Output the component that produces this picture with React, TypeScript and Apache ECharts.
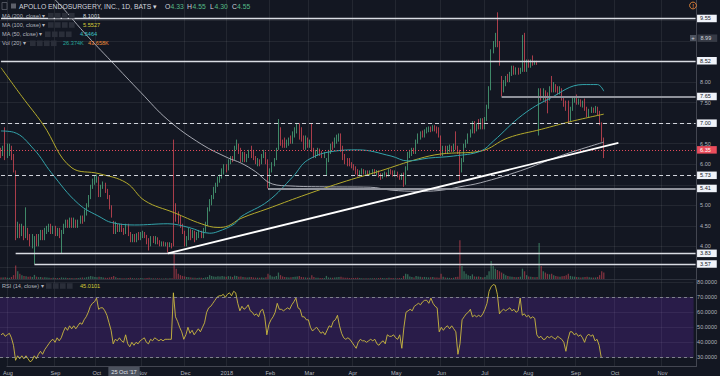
import React, { useEffect, useRef } from 'react';
import * as echarts from 'echarts';

// ---------- time axis ----------
const TRADING_START = '2017-08-01';
const SLOT_COUNT = 334; // trading sessions incl. empty future space up to the price scale
const MARKET_HOLIDAYS = ['2017-09-04', '2017-11-23', '2017-12-25', '2018-01-01', '2018-01-15', '2018-02-19', '2018-03-30', '2018-05-28', '2018-07-04', '2018-09-03', '2018-11-22'];
const MONTH_NAMES = ['Jan', 'Feb', 'Mar', 'Apr', 'May', 'Jun', 'Jul', 'Aug', 'Sep', 'Oct', 'Nov', 'Dec'];

// ---------- candles [open, close, low, high] ----------
const aug17 = [[6.3,6.25,6.15,6.4],[6.25,6.35,6.2,6.45],[6.4,6.2,6.1,6.9],[6.2,6.35,6.15,6.5],[6.3,6.4,6.2,6.5],[6.4,6.2,6.1,6.45],[6.2,5.85,5.8,6.25],[5.8,4.3,4.15,5.85],[4.3,4.5,4.2,4.6],[4.5,4.3,4.2,4.55],[4.3,4.45,4.25,4.55],[4.45,4.25,4.15,4.5],[4.25,4.4,4.2,4.95],[4.4,4.25,4.15,4.45],[4.25,4.1,4.0,4.3],[4.1,4.15,3.95,4.3],[3.95,4.2,3.57,4.25],[4.2,4.05,4.0,4.3],[4.05,4.25,4.0,4.3],[4.2,4.35,4.15,4.4],[4.35,4.2,4.15,4.4],[4.2,4.4,4.15,4.45],[4.35,4.45,4.3,4.5]];
const sep17 = [[4.4,4.5,4.35,4.55],[4.5,4.35,4.3,4.55],[4.35,4.45,4.3,4.5],[4.45,4.3,4.25,4.5],[4.3,4.4,4.25,4.45],[4.4,4.25,4.2,4.45],[4.2,4.35,3.83,4.4],[4.35,4.5,4.3,4.55],[4.5,4.6,4.45,4.65],[4.6,4.5,4.45,4.65],[4.5,4.6,4.45,4.7],[4.65,4.5,4.45,4.7],[4.5,4.62,4.45,4.7],[4.62,4.5,4.45,4.65],[4.5,4.6,4.45,4.65],[4.6,4.7,4.55,4.75],[4.7,4.6,4.55,4.75],[4.65,4.85,4.6,4.9],[4.8,5.0,4.75,5.05],[5.0,5.2,4.95,5.25]];
const oct17 = [[5.2,5.45,5.15,5.5],[5.45,5.6,5.4,5.65],[5.55,5.65,5.5,5.72],[5.62,5.72,5.55,5.75],[5.68,5.25,5.2,5.7],[5.3,5.45,5.2,5.5],[5.45,5.52,5.4,5.58],[5.5,5.35,5.3,5.55],[5.35,5.2,5.15,5.4],[5.2,4.95,4.9,5.25],[4.95,4.75,4.7,5.0],[4.6,4.35,4.3,4.62],[4.35,4.5,4.3,4.6],[4.5,4.4,4.35,4.55],[4.4,4.5,4.35,4.55],[4.5,4.4,4.35,4.55],[4.4,4.33,4.28,4.45],[4.33,4.55,4.30,4.55],[4.5,4.3,4.25,4.55],[4.3,4.15,4.1,4.35],[4.15,4.25,4.1,4.3],[4.25,4.15,4.1,4.3]];
const nov17 = [[4.15,4.3,4.1,4.32],[4.3,4.2,4.15,4.35],[4.2,4.3,4.15,4.35],[4.25,4.32,4.2,4.38],[4.32,4.25,4.2,4.35],[4.25,4.1,4.05,4.28],[4.15,4.05,3.9,4.2],[4.05,4.2,4.0,4.25],[4.2,4.12,4.08,4.25],[4.1,4.2,4.05,4.25],[4.2,4.1,4.05,4.22],[4.1,4.05,4.0,4.15],[4.05,4.1,4.0,4.12],[4.1,4.05,4.0,4.12],[4.05,4.08,4.0,4.1],[4.08,4.02,3.85,4.1],[4.02,4.06,3.98,4.1],[4.06,4.0,3.95,4.08],[5.6,4.95,4.0,6.6],[4.95,4.75,4.6,5.05],[4.75,4.65,4.55,4.85]];
const dec17 = [[4.7,4.5,4.45,4.75],[4.5,4.35,4.3,4.55],[4.35,4.1,4.0,4.38],[4.1,4.2,4.0,4.25],[4.2,4.4,4.15,4.45],[4.4,4.25,4.15,4.42],[4.25,4.35,4.2,4.4],[4.35,4.2,4.1,4.38],[4.2,4.3,4.15,4.35],[4.25,4.35,4.2,4.4],[4.35,4.25,4.2,4.38],[4.25,4.4,4.2,4.45],[4.4,4.55,4.35,4.6],[4.55,4.9,4.5,4.95],[4.9,5.1,4.85,5.15],[5.1,5.2,5.0,5.25],[5.2,5.4,5.15,5.45],[5.35,5.5,5.3,5.55],[5.5,5.65,5.45,5.7],[5.6,5.72,5.55,5.75]];
const jan18 = [[5.7,5.85,5.65,5.9],[5.85,5.95,5.75,6.0],[5.95,5.85,5.8,6.0],[5.9,6.08,5.85,6.12],[6.08,6.15,6.0,6.2],[6.15,6.1,6.05,6.2],[6.15,6.4,6.1,6.45],[6.4,6.45,6.35,6.6],[6.45,6.3,6.25,6.5],[6.35,6.1,6.05,6.4],[6.1,6.25,6.05,6.3],[6.25,6.15,6.05,6.3],[6.1,6.2,6.05,6.25],[6.2,6.3,6.15,6.35],[6.35,6.2,6.15,6.45],[6.3,6.15,6.1,6.35],[6.15,6.05,6.0,6.2],[6.0,6.1,5.95,6.15],[6.1,6.0,5.95,6.12],[6.05,6.2,6.0,6.25],[6.2,6.3,6.15,6.35]];
const feb18 = [[6.25,6.1,6.0,6.3],[6.1,5.55,5.41,6.12],[5.55,5.85,5.45,5.9],[5.85,6.0,5.8,6.05],[6.0,6.1,5.95,6.15],[6.15,6.35,6.1,6.4],[6.4,6.8,6.35,7.1],[6.8,6.5,6.45,6.9],[6.55,6.5,6.4,6.6],[6.6,6.45,6.4,6.65],[6.45,6.55,6.4,6.6],[6.5,6.6,6.45,6.65],[6.62,6.55,6.5,6.7],[6.55,6.75,6.5,6.8],[6.7,6.85,6.65,6.9],[6.8,6.95,6.75,7.0],[6.97,6.65,6.6,7.0],[6.85,6.6,6.55,6.9],[6.65,6.4,6.35,6.7]];
const mar18 = [[6.4,6.6,6.35,6.7],[6.6,6.5,6.4,6.65],[6.45,6.55,6.4,6.6],[6.9,6.35,6.3,7.0],[6.35,6.2,6.15,6.4],[6.2,6.3,6.15,6.35],[6.25,6.35,6.2,6.4],[6.35,6.25,6.2,6.38],[6.3,6.2,6.15,6.32],[6.2,6.25,6.15,6.3],[5.85,6.1,5.72,6.15],[6.1,6.3,6.05,6.35],[6.3,6.45,6.25,6.5],[6.5,6.4,6.35,6.55],[6.45,6.6,6.4,6.65],[6.55,6.65,6.5,6.72],[6.6,6.7,6.55,6.75],[6.7,6.35,6.3,6.75],[6.4,6.15,6.1,6.45],[6.2,6.05,6.0,6.25],[6.1,6.0,5.95,6.15]];
const apr18 = [[6.05,5.98,5.95,6.15],[6.0,5.95,5.9,6.05],[5.98,5.9,5.85,6.0],[5.9,5.8,5.75,5.95],[5.85,5.75,5.7,5.88],[5.75,5.82,5.7,5.85],[5.8,5.85,5.75,5.9],[5.85,5.8,5.75,5.88],[5.78,5.82,5.75,5.85],[5.82,5.77,5.72,5.85],[5.77,5.8,5.72,5.85],[5.78,5.85,5.75,5.88],[5.85,5.8,5.75,5.88],[5.78,5.83,5.72,5.86],[5.83,5.72,5.68,5.85],[5.75,5.68,5.62,5.78],[5.68,5.75,5.65,5.78],[5.72,5.78,5.7,5.82],[5.78,5.72,5.68,5.8],[5.72,5.85,5.7,5.88],[5.85,5.8,5.75,5.88]];
const may18 = [[5.82,5.75,5.7,5.85],[5.75,5.8,5.7,5.85],[5.8,5.72,5.68,5.82],[5.72,5.68,5.62,5.75],[5.68,5.75,5.62,5.78],[5.75,5.5,5.45,5.8],[5.55,5.9,5.5,5.95],[5.9,6.25,5.85,6.3],[6.2,6.3,6.15,6.35],[6.25,6.35,6.2,6.4],[6.35,6.3,6.25,6.4],[6.3,6.55,6.25,6.6],[6.55,6.7,6.5,6.75],[6.65,6.75,6.6,6.8],[6.78,6.7,6.65,6.82],[6.7,6.82,6.65,6.85],[6.8,6.85,6.75,6.9],[6.82,6.88,6.78,6.92],[6.88,6.82,6.78,6.92],[6.82,6.92,6.8,6.95],[6.9,6.85,6.8,6.95],[6.88,6.8,6.75,6.92]];
const jun18 = [[6.85,6.7,6.65,6.9],[6.65,6.25,6.2,6.7],[6.25,6.4,6.2,6.45],[6.4,6.3,6.25,6.45],[6.3,6.4,6.25,6.45],[6.35,6.42,6.3,6.48],[6.42,6.35,6.3,6.45],[6.35,6.45,6.3,6.5],[6.5,6.4,6.35,6.8],[6.4,6.3,6.25,6.45],[6.3,5.85,5.6,6.35],[5.85,6.1,5.8,6.15],[6.1,6.45,6.05,6.5],[6.45,6.55,6.4,6.6],[6.55,6.7,6.5,6.75],[6.7,6.8,6.65,6.85],[6.8,7.0,6.75,7.05],[7.0,6.8,6.75,7.05],[6.85,6.95,6.8,7.0],[7.05,6.9,6.85,7.1],[6.9,7.05,6.85,7.12]];
const jul18 = [[7.05,6.9,6.85,7.12],[6.9,7.1,6.85,7.15],[7.1,7.4,7.05,7.45],[7.4,7.85,7.35,7.9],[7.85,8.75,7.8,8.8],[8.75,8.95,8.7,9.0],[8.9,9.05,8.85,9.2],[9.05,8.95,8.85,9.7],[8.95,8.45,8.4,9.0],[8.1,7.75,7.65,8.15],[7.8,8.0,7.75,8.05],[7.95,8.1,7.9,8.15],[8.15,8.05,8.0,8.2],[8.05,8.2,8.0,8.25],[8.2,8.35,8.15,8.4],[8.35,8.22,8.18,8.4],[8.22,8.32,8.18,8.36],[8.32,8.22,8.18,8.35],[8.22,8.3,8.2,8.35],[8.28,9.1,8.25,9.15],[9.15,8.3,8.25,9.2]];
const aug18 = [[8.3,8.5,8.25,8.55],[8.5,8.4,8.35,8.55],[8.4,8.52,8.35,8.55],[8.55,8.45,8.4,8.65],[8.45,8.5,8.42,8.52],[8.5,8.45,8.42,8.52],[6.9,7.8,6.7,7.85],[7.8,7.6,7.55,7.85],[7.6,7.8,7.55,7.85],[7.75,7.6,7.5,7.8],[7.7,7.55,7.24,7.75],[7.6,7.85,7.55,7.9],[7.95,7.8,7.75,8.15],[7.8,7.95,7.75,8.0],[7.9,7.8,7.75,7.95],[7.85,7.75,7.7,7.9],[7.72,7.85,7.7,7.9],[7.8,7.6,7.55,7.85],[7.6,7.45,7.4,7.65],[7.5,7.38,7.3,7.55],[7.5,7.05,7.0,7.55],[7.1,7.35,7.05,7.4],[7.35,7.55,7.3,7.65]];
const sep18 = [[7.55,7.62,7.5,7.65],[7.62,7.5,7.45,7.7],[7.5,7.55,7.45,7.6],[7.55,7.45,7.4,7.58],[7.45,7.5,7.38,7.55],[7.55,7.35,7.3,7.6],[7.35,7.2,7.15,7.4],[7.2,7.3,7.15,7.35],[7.28,7.35,7.25,7.4],[7.35,7.3,7.25,7.38],[7.3,7.38,7.25,7.42],[7.35,7.25,7.2,7.4],[7.25,7.0,6.95,7.3],[7.0,6.62,6.55,7.02],[6.6,6.35,6.15,6.65]];

// ---------- volume (thousands) ----------
const volAug17 = [60,55,70,50,45,80,150,520,300,200,150,120,110,90,100,80,160,90,70,80,60,70,60];
const volSep17 = [50,40,45,40,35,40,60,50,45,40,35,40,30,35,40,45,60,50,70,90];
const volOct17 = [120,100,80,70,90,80,60,50,45,60,80,120,70,40,35,30,28,26.374,40,45,35,30];
const volNov17 = [30,28,35,30,25,40,45,30,28,25,30,25,20,22,25,20,30,25,1100,400,200];
const volDec17 = [150,120,100,80,70,60,50,45,40,50,45,40,60,80,150,120,100,90,110,100];
const volJan18 = [120,100,90,110,100,80,130,120,90,100,80,70,60,70,80,60,55,50,45,60,50];
const volFeb18 = [70,200,150,100,90,120,250,150,100,80,70,60,70,80,90,100,120,80,70];
const volMar18 = [60,50,45,150,80,50,45,40,40,35,120,60,50,45,60,70,80,90,60,50,45];
const volApr18 = [40,35,40,45,50,35,30,30,28,30,28,30,35,30,40,45,35,30,35,50,40];
const volMay18 = [35,30,30,40,35,120,200,180,100,80,60,120,100,90,70,80,70,60,65,80,60,55];
const volJun18 = [50,200,90,60,50,45,40,50,80,90,1500,500,300,200,150,120,180,100,90,100,80];
const volJul18 = [60,80,150,300,700,500,400,350,300,250,200,150,120,100,90,80,70,80,90,400,300];
const volAug18 = [150,100,90,80,70,80,1400,500,300,250,200,180,200,150,120,100,90,110,120,150,200,120,100];
const volSep18 = [90,80,70,60,70,80,90,70,60,55,60,80,150,300,250];

// ---------- RSI(14) ----------
const rsiAug17 = [45,46,44,45,46,43,38,28,31,29,31,29,31,29,27,28,31,29,32,34,32,35,37];
const rsiSep17 = [39,41,42,40,43,41,43,47,50,48,51,49,51,49,51,53,52,55,57,60];
const rsiOct17 = [64,66,67,69.5,62,63,63,61,58,53,48,39,42,41,43,41,40,45,39,37,40,38];
const rsiNov17 = [40,39,41,42,43,40,39,42,41,43,42,41,42,41,42,42,42,42,73,57,54];
const rsiDec17 = [50,47,42,45,50,46,48,45,47,49,47,50,53,60,63,64,66,68,70,71];
const rsiJan18 = [71,72,70,72,73,71,74,73,66,61,64,62,63,65,61,60,58,59,57,61,62];
const rsiFeb18 = [57,45,52,55,57,60,66,62,62,61,62,63,62,65,67,69.5,63,62,57];
const rsiMar18 = [57,55,55,50,47.5,49,50,48,46,47,45,48,51,50,54,55,58,51,46,43,42];
const rsiApr18 = [43,42,40,38,36,40,42,41,41,40,41,42,41,42,39,38,40,41,39,45,44];
const rsiMay18 = [44,45,43,42,45,36,50,60,61,62,61,64,65,66,65,67,68,68,66,69.5,66,64];
const rsiJun18 = [63,47,50,48,50,51,49,51,49,47,32,39,55,57,59,60,62,57,58,57,58];
const rsiJul18 = [57,59,62,66,74,77,78.5,78,72,59,61,62,61,62,63,61,62,60,61,69.5,58];
const rsiAug18 = [59,57,58,56,57,56,45,43,44,42,42,44,43,44,43,42,44,43,42,40,34,42,47];
const rsiSep18 = [47,45,46,44,45,43,40,44,45.5,44,45,41,42,38,30];

// ---------- moving averages, read at [session index, value] ----------
const ma200Pts = [[0,11.3],[14,10.6],[27,9.95],[40,9.2],[53,8.5],[67,7.75],[80,7.08],[96,6.49],[109,6.15],[115,6.03],[122,5.82],[130,5.52],[139,5.47],[155,5.45],[177,5.44],[187,5.37],[200,5.34],[210,5.36],[220,5.45],[230,5.55],[249,5.84],[268,6.2],[289,6.54]];
const ma100Pts = [[0,8.35],[10,7.65],[20,6.98],[34,5.91],[47,5.77],[60,5.55],[69,5.11],[83,4.82],[96,4.55],[104,4.46],[109,4.5],[115,4.68],[128,4.92],[144,5.22],[163,5.55],[182,5.84],[200,6.13],[211,6.25],[230,6.32],[243,6.64],[259,6.85],[274,7.05],[289,7.22]];
const ma50Pts = [[0,6.81],[6,6.78],[16,6.35],[24,5.8],[37,5.04],[48,4.7],[53,4.58],[64,4.52],[80,4.55],[90,4.46],[100,4.32],[104,4.36],[112,4.55],[115,4.72],[128,5.1],[140,5.7],[147,6.1],[160,6.32],[171,6.35],[187,6.2],[195,6.08],[205,6.15],[217,6.2],[230,6.32],[236,6.56],[250,7.2],[263,7.6],[279,7.94],[286,7.94],[289,7.78]];

// ---------- drawn levels ----------
const levelValues = [9.55, 8.52, 7.65, 7.0, 6.35, 5.73, 5.41, 3.83, 3.57];
const levelStartIdx = [0, 0, 240, 0, 0, 0, 128, 7, 16];
const trendAnchors = [[80, 3.83], [296, 6.52]];

// ---------- legend values ----------
const crosshairIdx = 60;
const crosshairLabel = "25 Oct '17";
const crosshairPrice = 8.99;
const legendMA = ['8.1001', '5.5527', '4.5464'];
const legendVol = ['26.374K', '43.658K'];
const legendRsi = '45.0101';

const UP = '#53b987';
const DOWN = '#eb4d5c';
const FONT = '"Liberation Sans", Arial, sans-serif';

function buildSessions(): string[] {
  const out: string[] = [];
  const d = new Date(TRADING_START + 'T00:00:00Z');
  while (out.length < SLOT_COUNT) {
    const dow = d.getUTCDay();
    const s = d.toISOString().slice(0, 10);
    if (dow !== 0 && dow !== 6 && MARKET_HOLIDAYS.indexOf(s) < 0) out.push(s);
    d.setUTCDate(d.getUTCDate() + 1);
  }
  return out;
}

export default function App() {
  const ref = useRef<HTMLDivElement>(null);
  useEffect(() => {
    if (!ref.current) return;
    const chart = echarts.init(ref.current, undefined, { renderer: 'svg' });
    const sessions = buildSessions();
    const candles = [...aug17, ...sep17, ...oct17, ...nov17, ...dec17, ...jan18, ...feb18, ...mar18, ...apr18, ...may18, ...jun18, ...jul18, ...aug18, ...sep18];
    const volumes = [...volAug17, ...volSep17, ...volOct17, ...volNov17, ...volDec17, ...volJan18, ...volFeb18, ...volMar18, ...volApr18, ...volMay18, ...volJun18, ...volJul18, ...volAug18, ...volSep18];
    const rsi = [...rsiAug17, ...rsiSep17, ...rsiOct17, ...rsiNov17, ...rsiDec17, ...rsiJan18, ...rsiFeb18, ...rsiMar18, ...rsiApr18, ...rsiMay18, ...rsiJun18, ...rsiJul18, ...rsiAug18, ...rsiSep18];

    const isMonthStart = (i: number) => i === 0 || sessions[i].slice(0, 7) !== sessions[i - 1].slice(0, 7);
    const monthLabel = (v: string) => {
      const m = parseInt(v.slice(5, 7), 10);
      return m === 1 ? v.slice(0, 4) : MONTH_NAMES[m - 1];
    };
    // price-scale labels hidden where a level / crosshair box sits on top of them (as on the reference)
    const boxedPrices = [...levelValues, crosshairPrice];
    const priceLabel = (v: number) => (boxedPrices.some(b => Math.abs(b - v) < 0.1) ? '' : v.toFixed(2));

    const L = -2.146;
    const R = 23.4;
    const gridColor = 'rgba(255,255,255,0.07)';
    const axisText = '#b2b5be';
    const last = SLOT_COUNT - 1;

    const levelStyle = (v: number) => {
      if (v === 7.65 || v === 5.41) return { color: '#8f929b', width: 2, type: 'solid' };
      if (v === 7.0 || v === 5.73) return { color: '#d1d4dc', width: 1, type: [4, 3] };
      if (v === 6.35) return { color: DOWN, width: 1, type: [1, 2] };
      return { color: '#d9dce3', width: 1.3, type: 'solid' };
    };

    const levelLines: any[] = levelValues.map((v, k) => {
      const isLast = v === 6.35;
      return [
        {
          coord: [levelStartIdx[k], v],
          lineStyle: levelStyle(v),
          label: {
            show: true, position: 'end', distance: 1.5, formatter: v.toFixed(2),
            color: isLast ? '#ffffff' : '#131722', backgroundColor: isLast ? DOWN : '#f0f3fa',
            fontSize: 5.5, fontFamily: FONT, padding: [1, 6, 0.5, 3], borderRadius: 0,
          },
        },
        { coord: [last, v] },
      ];
    });
    levelLines.push([
      { coord: trendAnchors[0], lineStyle: { color: '#ffffff', width: 1.8, type: 'solid' }, label: { show: false } },
      { coord: trendAnchors[1] },
    ]);

    const maSeries = (name: string, pts: number[][], color: string, width: number) => ({
      name, type: 'line', xAxisIndex: 0, yAxisIndex: 0, data: pts, smooth: 0.4, showSymbol: false,
      lineStyle: { color, width }, z: 3, silent: true,
    });

    const legendRow = (y: number, label: string, iconX: number, values: { text: string; x: number; color: string }[]) => {
      const els: any[] = [
        { type: 'text', x: 2, y, style: { text: label, fill: axisText, font: `5.6px ${FONT}`, verticalAlign: 'middle' } },
      ];
      for (let k = 0; k < 4; k++) {
        els.push({ type: 'rect', shape: { x: iconX + k * 7, y: y - 2.8, width: 5.6, height: 5.6 }, style: { fill: '#2a2e39' } });
      }
      values.forEach(v => els.push({ type: 'text', x: v.x, y, style: { text: v.text, fill: v.color, font: `5.6px ${FONT}`, verticalAlign: 'middle' } }));
      return els;
    };

    const ch = candles[crosshairIdx];
    const graphics: any[] = [
      // header
      { type: 'rect', shape: { x: 2, y: 2.5, width: 5, height: 7 }, style: { fill: 'none', stroke: '#5d606b', lineWidth: 0.8 } },
      { type: 'rect', shape: { x: 11, y: 3.5, width: 5, height: 5 }, style: { fill: '#5d606b' } },
      { type: 'text', x: 19, y: 6.2, style: { text: 'APOLLO ENDOSURGERY, INC., 1D, BATS ▾', fill: '#d1d4dc', font: `6.8px ${FONT}`, verticalAlign: 'middle' } },
      { type: 'text', x: 165, y: 6.2, style: { text: 'O', fill: '#d1d4dc', font: `6.8px ${FONT}`, verticalAlign: 'middle' } },
      { type: 'text', x: 170.5, y: 6.2, style: { text: ch[0].toFixed(2), fill: UP, font: `6.8px ${FONT}`, verticalAlign: 'middle' } },
      { type: 'text', x: 187, y: 6.2, style: { text: 'H', fill: '#d1d4dc', font: `6.8px ${FONT}`, verticalAlign: 'middle' } },
      { type: 'text', x: 192.5, y: 6.2, style: { text: ch[3].toFixed(2), fill: UP, font: `6.8px ${FONT}`, verticalAlign: 'middle' } },
      { type: 'text', x: 210, y: 6.2, style: { text: 'L', fill: '#d1d4dc', font: `6.8px ${FONT}`, verticalAlign: 'middle' } },
      { type: 'text', x: 214.5, y: 6.2, style: { text: ch[2].toFixed(2), fill: UP, font: `6.8px ${FONT}`, verticalAlign: 'middle' } },
      { type: 'text', x: 232, y: 6.2, style: { text: 'C', fill: '#d1d4dc', font: `6.8px ${FONT}`, verticalAlign: 'middle' } },
      { type: 'text', x: 237, y: 6.2, style: { text: ch[1].toFixed(2), fill: UP, font: `6.8px ${FONT}`, verticalAlign: 'middle' } },
      ...legendRow(15.7, 'MA (200, close) ▾', 48, [{ text: legendMA[0], x: 83, color: '#d1d4dc' }]),
      ...legendRow(25, 'MA (100, close) ▾', 48, [{ text: legendMA[1], x: 83, color: '#d6cc38' }]),
      ...legendRow(34.3, 'MA (50, close) ▾', 45, [{ text: legendMA[2], x: 80, color: '#3cc1c8' }]),
      ...legendRow(43.3, 'Vol (20) ▾', 30, [{ text: legendVol[0], x: 63, color: '#26a69a' }, { text: legendVol[1], x: 88, color: '#f08c3a' }]),
      ...legendRow(286, 'RSI (14, close) ▾', 46, [{ text: legendRsi, x: 80, color: '#d6cc38' }]),
      // alert icon
      { type: 'circle', shape: { cx: 693, cy: 5.5, r: 3.4 }, style: { fill: 'none', stroke: '#e8893a', lineWidth: 0.9 } },
      { type: 'text', x: 693, y: 5.7, style: { text: '!', fill: '#e8893a', font: `bold 5px ${FONT}`, align: 'center', verticalAlign: 'middle' } },
      // pane separator
      { type: 'rect', shape: { x: 0, y: 279.2, width: 697, height: 0.8 }, style: { fill: '#363a45' } },
      // crosshair price label
      { type: 'rect', shape: { x: 690, y: 35, width: 6, height: 6 }, style: { fill: '#4c525e' } },
      { type: 'text', x: 693, y: 38.2, style: { text: '+', fill: '#d1d4dc', font: `6px ${FONT}`, align: 'center', verticalAlign: 'middle' } },
      { type: 'text', x: 697.5, y: 38.2, style: { text: crosshairPrice.toFixed(2), fill: '#d1d4dc', font: `5.5px ${FONT}`, verticalAlign: 'middle', backgroundColor: '#363a45', padding: [1, 6, 0.5, 3] } },
      // crosshair time label
      { type: 'text', x: 124, y: 371.5, style: { text: crosshairLabel, fill: '#e0e3eb', font: `5.6px ${FONT}`, align: 'center', verticalAlign: 'middle', backgroundColor: '#4c525e', padding: [2, 3, 1.5, 3] } },
    ].map(g => ({ ...g, z: 100, silent: true }));

    const option: any = {
      animation: false,
      backgroundColor: '#131722',
      textStyle: { fontFamily: FONT },
      grid: [
        { left: L, right: R, top: -2.05, height: 289.45 },
        { left: L, right: R, top: 230, height: 49 },
        { left: L, right: R, top: 267.3, height: 105 },
        { left: L, right: R, top: 0, height: 366 },
      ],
      xAxis: [
        { type: 'category', gridIndex: 0, data: sessions, show: false },
        { type: 'category', gridIndex: 1, data: sessions, show: false },
        { type: 'category', gridIndex: 2, data: sessions, show: false },
        {
          type: 'category', gridIndex: 3, data: sessions,
          axisLine: { show: true, lineStyle: { color: '#434651', width: 1 } },
          axisTick: { show: false },
          axisLabel: {
            interval: (i: number) => isMonthStart(i), formatter: (v: string) => monthLabel(v),
            color: axisText, fontSize: 5.6, margin: 3.5, fontFamily: FONT, alignMinLabel: 'center',
          },
          splitLine: { show: true, interval: (i: number) => isMonthStart(i), lineStyle: { color: gridColor, width: 1 } },
        },
      ],
      yAxis: [
        {
          type: 'value', gridIndex: 0, position: 'right', min: 3, max: 10, interval: 0.5,
          axisLine: { show: false }, axisTick: { show: false },
          axisLabel: { formatter: priceLabel, color: axisText, fontSize: 5.5, margin: 3.5, showMinLabel: false, showMaxLabel: false, fontFamily: FONT },
          splitLine: { show: true, showMinLine: false, showMaxLine: false, lineStyle: { color: gridColor, width: 1 } },
        },
        { type: 'value', gridIndex: 1, min: 0, max: 1900, show: false },
        {
          type: 'value', gridIndex: 2, position: 'right', min: 20, max: 90, interval: 10,
          axisLine: { show: false }, axisTick: { show: false },
          axisLabel: { formatter: (v: number) => v.toFixed(4), color: axisText, fontSize: 5.5, margin: 3.5, showMinLabel: false, showMaxLabel: false, fontFamily: FONT },
          splitLine: { show: true, showMinLine: false, showMaxLine: false, lineStyle: { color: gridColor, width: 1 } },
        },
        {
          type: 'value', gridIndex: 3, position: 'right', min: 0, max: 1,
          axisLine: { show: true, onZero: false, lineStyle: { color: '#434651', width: 1 } },
          axisTick: { show: false }, axisLabel: { show: false }, splitLine: { show: false },
        },
      ],
      series: [
        {
          name: 'price', type: 'candlestick', xAxisIndex: 0, yAxisIndex: 0, data: candles, barWidth: '62%', z: 2,
          itemStyle: { color: UP, color0: DOWN, borderColor: UP, borderColor0: DOWN, borderWidth: 0.7 },
          silent: true,
        },
        maSeries('MA200', ma200Pts, '#b4b7bf', 0.9),
        maSeries('MA100', ma100Pts, '#b3aa2c', 1),
        maSeries('MA50', ma50Pts, '#33a3aa', 1),
        {
          name: 'levels', type: 'line', xAxisIndex: 0, yAxisIndex: 0, data: [], z: 5, silent: true,
          markLine: { symbol: ['none', 'none'], silent: true, animation: false, data: levelLines },
        },
        {
          name: 'volume', type: 'bar', xAxisIndex: 1, yAxisIndex: 1, barWidth: '62%', silent: true,
          data: volumes.map((v, i) => ({
            value: v,
            itemStyle: { color: candles[i][1] >= candles[i][0] ? 'rgba(83,185,135,0.5)' : 'rgba(235,77,92,0.5)' },
          })),
        },
        {
          name: 'RSI', type: 'line', xAxisIndex: 2, yAxisIndex: 2, data: rsi, showSymbol: false, silent: true,
          lineStyle: { color: '#cdbb3f', width: 0.9 }, z: 3,
          markArea: { silent: true, itemStyle: { color: 'rgba(130,50,230,0.2)' }, data: [[{ yAxis: 30 }, { yAxis: 70 }]] },
          markLine: {
            symbol: ['none', 'none'], silent: true, label: { show: false },
            lineStyle: { color: '#9598a1', width: 0.8, type: [3, 3] },
            data: [{ yAxis: 30 }, { yAxis: 70 }],
          },
        },
      ],
      graphic: graphics,
    };
    chart.setOption(option);
    return () => chart.dispose();
  }, []);
  return <div ref={ref} style={{ position: 'fixed', left: 0, top: 0, width: 720, height: 376, background: '#131722' }} />;
}
